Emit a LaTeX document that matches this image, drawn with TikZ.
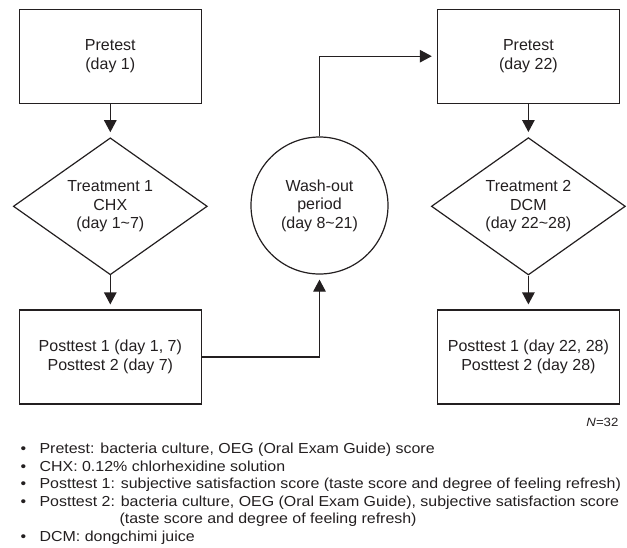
\documentclass[tikz,border=0pt]{standalone}
\usepackage{fontspec}
\setmainfont{Liberation Sans}
\newfontfamily\notefont[FakeStretch=1.1]{Liberation Sans}
\usetikzlibrary{shapes.geometric,arrows.meta}
\definecolor{ink}{RGB}{35,31,32}
\begin{document}
\begin{tikzpicture}[x=1pt,y=-1pt, line width=1.2pt, draw=ink, text=ink,
  mainfont/.style={font=\fontsize{16}{18.5}\selectfont},
  box/.style={draw, rectangle, minimum width=182pt, minimum height=94pt, inner sep=0pt, align=center, mainfont},
  dia/.style={draw, diamond, minimum width=194pt, minimum height=127.5pt, inner sep=0pt, align=center, mainfont},
  circ/.style={draw, circle, minimum size=137pt, inner sep=0pt, align=center, mainfont},
  arr/.style={-{Triangle[length=12pt,width=12.5pt]}, shorten >=5pt},
  note/.style={anchor=base west, inner sep=0pt, font=\notefont\fontsize{14.5}{17.6}\selectfont},
]
\useasboundingbox (0,0) rectangle (627,547);

\node[box] (pre1) at (110.3,56.2) {Pretest\\(day 1)};
\node[dia] (tr1) at (110.3,206.3) {Treatment 1\\CHX\\(day 1\textasciitilde7)};
\node[box] (post1) at (110.3,357) {Posttest 1 (day 1, 7)\\Posttest 2 (day 7)};
\node[circ] (wash) at (319.5,205.5) {Wash-out\\period\\(day 8\textasciitilde21)};
\node[box] (pre2) at (528.4,56.2) {Pretest\\(day 22)};
\node[dia] (tr2) at (528.4,206.3) {Treatment 2\\DCM\\(day 22\textasciitilde28)};
\node[box] (post2) at (528.4,357) {Posttest 1 (day 22, 28)\\Posttest 2 (day 28)};

\draw[arr] (pre1) -- (tr1);
\draw[arr] (tr1) -- (post1);
\draw[arr] (post1.east) -| (wash.south);
\draw[arr] (wash.north) |- (pre2.west);
\draw[arr] (pre2) -- (tr2);
\draw[arr] (tr2) -- (post2);

\node[anchor=base east, inner sep=0pt, font=\notefont\fontsize{12}{14}\selectfont] (n) at (619,426.7) {\textit{N}=32};

\node[note] (d1) at (20,453.3) {\textbullet};
\node[note] (b1) at (39,453.3) {Pretest: bacteria culture, OEG (Oral Exam Guide) score};
\node[note] (d2) at (20,471) {\textbullet};
\node[note] (b2) at (39,471) {CHX: 0.12\% chlorhexidine solution};
\node[note] (d3) at (20,488.5) {\textbullet};
\node[note] (b3) at (39,488.5) {Posttest 1: subjective satisfaction score (taste score and degree of feeling refresh)};
\node[note] (d4) at (20,506) {\textbullet};
\node[note] (b4) at (39,506) {Posttest 2: bacteria culture, OEG (Oral Exam Guide), subjective satisfaction score};
\node[note] (b4b) at (119,523.5) {(taste score and degree of feeling refresh)};
\node[note] (d5) at (20,541) {\textbullet};
\node[note] (b5) at (39,541) {DCM: dongchimi juice};
\end{tikzpicture}
\end{document}
